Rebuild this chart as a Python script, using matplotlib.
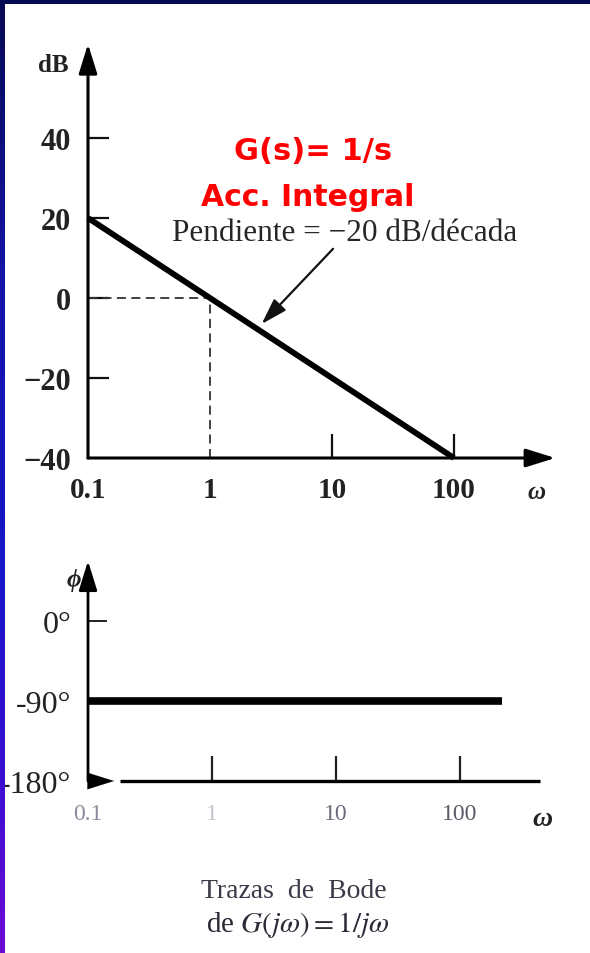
import numpy as np
import matplotlib
matplotlib.use("Agg")
import matplotlib.pyplot as plt
from matplotlib.patches import Rectangle

# ---------------- data ----------------
mag_omega = [0.1, 100]
mag_db = [20, -40]
mag_yticks = [40, 20, 0, -20, -40]
mag_ytick_labels = ["40", "20", "0", "\u221220", "\u221240"]
omega_ticks = [0.1, 1, 10, 100]
omega_tick_labels = ["0.1", "1", "10", "100"]
crossover = (1, 0)

phase_omega = [0.1, 220]
phase_deg = [-90, -90]
phase_yticks = [0, -90, -180]
phase_ytick_labels = ["0\u00b0", "-90\u00b0", "-180\u00b0"]

W, H = 590, 954
fig = plt.figure(figsize=(W / 100, H / 100), dpi=100)
fig.patch.set_facecolor("white")
plt.rcParams["mathtext.fontset"] = "stix"

def fx(px):
    return px / W

def fy(py):
    return 1 - py / H

serif = "Liberation Serif"

# ---------------- magnitude plot ----------------
L, R, T, B = 88, 560, 45, 459
ax1 = fig.add_axes([fx(L), fy(B), fx(R - L), (B - T) / H])
dec1 = 122.0
ax1.set_xscale("log")
ax1.set_xlim(0.1, 10 ** (-1 + (R - L) / dec1))
ax1.set_ylim(-40, -40 + (B - T) / 4.0)
for s in ax1.spines.values():
    s.set_visible(False)
ax1.patch.set_alpha(0)

ax1.set_yticks(mag_yticks)
ax1.set_yticklabels(mag_ytick_labels, fontfamily=serif, fontsize=22,
                    fontweight="bold", color="#222222")
ax1.tick_params(axis="y", direction="in", length=15, width=1.6, pad=12,
                color="#111111")
ax1.set_xticks(omega_ticks)
ax1.set_xticklabels(omega_tick_labels, fontfamily=serif, fontsize=21,
                    fontweight="bold", color="#222222")
ax1.xaxis.set_minor_locator(matplotlib.ticker.NullLocator())
ax1.tick_params(axis="x", direction="in", length=17, width=1.6, pad=13,
                color="#111111")
for i, t in enumerate(ax1.xaxis.get_major_ticks()):
    if omega_ticks[i] < 5:
        t.tick1line.set_visible(False)
ax1.yaxis.get_major_ticks()[-1].tick1line.set_visible(False)

# axes with arrows
ax1.annotate("", xy=(0, 1), xytext=(0, 0), xycoords="axes fraction",
             arrowprops=dict(arrowstyle="-|>,head_length=0.9,head_width=0.28",
                             lw=2.2, color="black", mutation_scale=20,
                             shrinkA=0, shrinkB=0), annotation_clip=False)
ax1.annotate("", xy=(0.99, 0), xytext=(0, 0), xycoords="axes fraction",
             arrowprops=dict(arrowstyle="-|>,head_length=0.9,head_width=0.28",
                             lw=2.2, color="black", mutation_scale=20,
                             shrinkA=0, shrinkB=0), annotation_clip=False)

ax1.plot(mag_omega, mag_db, color="black", lw=4.2, solid_capstyle="butt",
         clip_on=False, zorder=3)
ax1.plot([0.1, crossover[0]], [crossover[1], crossover[1]], color="#333333",
         lw=1.3, ls=(0, (5, 3)), clip_on=False)
ax1.plot([crossover[0], crossover[0]], [-40, crossover[1]], color="#333333",
         lw=1.3, ls=(0, (5, 3)), clip_on=False)

ax1.annotate("", xy=(2.65, -6.5), xytext=(10.2, 12.3),
             arrowprops=dict(arrowstyle="-|>,head_length=0.8,head_width=0.25",
                             lw=1.6, color="#111111", mutation_scale=20,
                             shrinkA=0, shrinkB=0), annotation_clip=False)

fig.text(fx(53), fy(66), "dB", fontfamily=serif, fontsize=18, fontweight="bold",
         ha="center", va="center", color="#222222")
fig.text(fx(537), fy(493), "\u03c9", fontfamily=serif, fontsize=18,
         style="italic", fontweight="bold", ha="center", va="center", color="#222222")

fig.text(fx(172), fy(234), "Pendiente = \u221220 dB/d\u00e9cada", fontfamily=serif,
         fontsize=22.5, ha="left", va="center", color="#262626")

fig.text(fx(313), fy(152), "G(s)= 1/s", fontfamily="DejaVu Sans", fontsize=22,
         fontweight="bold", color="#ff0000", ha="center", va="center")
fig.text(fx(308), fy(197), "Acc. Integral", fontfamily="DejaVu Sans", fontsize=21.5,
         fontweight="bold", color="#ff0000", ha="center", va="center")

# ---------------- phase plot ----------------
L2, R2, T2, B2 = 88, 540, 562, 782
ax2 = fig.add_axes([fx(L2), fy(B2), fx(R2 - L2), (B2 - T2) / H])
dec2 = 124.0
ax2.set_xscale("log")
ax2.set_xlim(0.1, 10 ** (-1 + (R2 - L2) / dec2))
ppd = 160.0 / 180.0
ax2.set_ylim(-180, -180 + (B2 - T2) / ppd)
for s in ax2.spines.values():
    s.set_visible(False)
ax2.patch.set_alpha(0)

ax2.set_yticks(phase_yticks)
ax2.set_yticklabels(phase_ytick_labels, fontfamily=serif, fontsize=23,
                    color="#222222")
ax2.tick_params(axis="y", direction="in", length=14, width=1.4, pad=12,
                color="#222222")
ax2.set_xticks(omega_ticks)
ax2.set_xticklabels(omega_tick_labels, fontfamily=serif, fontsize=17)
ax2.xaxis.set_minor_locator(matplotlib.ticker.NullLocator())
ax2.tick_params(axis="x", direction="in", length=18, width=1.6, pad=16,
                color="#222222")
label_colors = ["#8a8a9e", "#c4c4cc", "#6a6a78", "#5a5a68"]
for lab, c in zip(ax2.get_xticklabels(), label_colors):
    lab.set_color(c)
ax2.xaxis.get_major_ticks()[0].tick1line.set_visible(False)
for t in ax2.yaxis.get_major_ticks()[1:]:
    t.tick1line.set_visible(False)

ax2.annotate("", xy=(0, 1), xytext=(0, 0), xycoords="axes fraction",
             arrowprops=dict(arrowstyle="-|>,head_length=0.9,head_width=0.28",
                             lw=2.0, color="black", mutation_scale=20,
                             shrinkA=0, shrinkB=0), annotation_clip=False)
x_start = 10 ** (-1 + 32 / dec2)
ax2.plot([x_start, ax2.get_xlim()[1]], [-180, -180], color="black", lw=2.4,
         clip_on=False, solid_capstyle="butt")
ax2.annotate("", xy=(10 ** (-1 + 26 / dec2), -180), xytext=(0.1, -180),
             arrowprops=dict(arrowstyle="-|>,head_length=0.95,head_width=0.3",
                             lw=0.1, color="black", mutation_scale=20,
                             shrinkA=0, shrinkB=0), annotation_clip=False)

ax2.plot(phase_omega, phase_deg, color="black", lw=5.5, solid_capstyle="butt",
         clip_on=False, zorder=3)

fig.text(fx(74), fy(580), "\u03d5", fontfamily=serif, fontsize=18,
         style="italic", fontweight="bold", ha="center", va="center", color="#222222")
fig.text(fx(542), fy(820), "\u03c9", fontfamily=serif, fontsize=20,
         style="italic", fontweight="bold", ha="center", va="center", color="#222222")

# caption
fig.text(fx(294), fy(892), "Trazas  de  Bode", fontfamily=serif, fontsize=20,
         ha="center", va="center", color="#3a3a48")
fig.text(fx(298), fy(925), r"de $\mathit{G}(j\omega) = 1/j\omega$", fontfamily=serif,
         fontsize=21, ha="center", va="center", color="#2a2a36")

# ---------------- border ----------------
fig.add_artist(Rectangle((0, fy(5)), 1, 5 / H, transform=fig.transFigure,
                         facecolor="#060a52", edgecolor="none", zorder=20))
stops = np.array([[8, 10, 82], [20, 20, 170], [24, 22, 200], [55, 15, 210],
                  [108, 10, 212]]) / 255.0
pos = np.array([0.0, 0.3, 0.6, 0.8, 1.0])
yy = np.linspace(0, 1, 300)
grad = np.stack([np.interp(yy, pos, stops[:, k]) for k in range(3)], axis=1)
axb = fig.add_axes([0, 0, 5 / W, 1], zorder=30)
axb.imshow(grad[:, None, :], aspect="auto", extent=(0, 1, 1, 0))
axb.set_axis_off()

fig.savefig("out.png", dpi=100, facecolor="white")
